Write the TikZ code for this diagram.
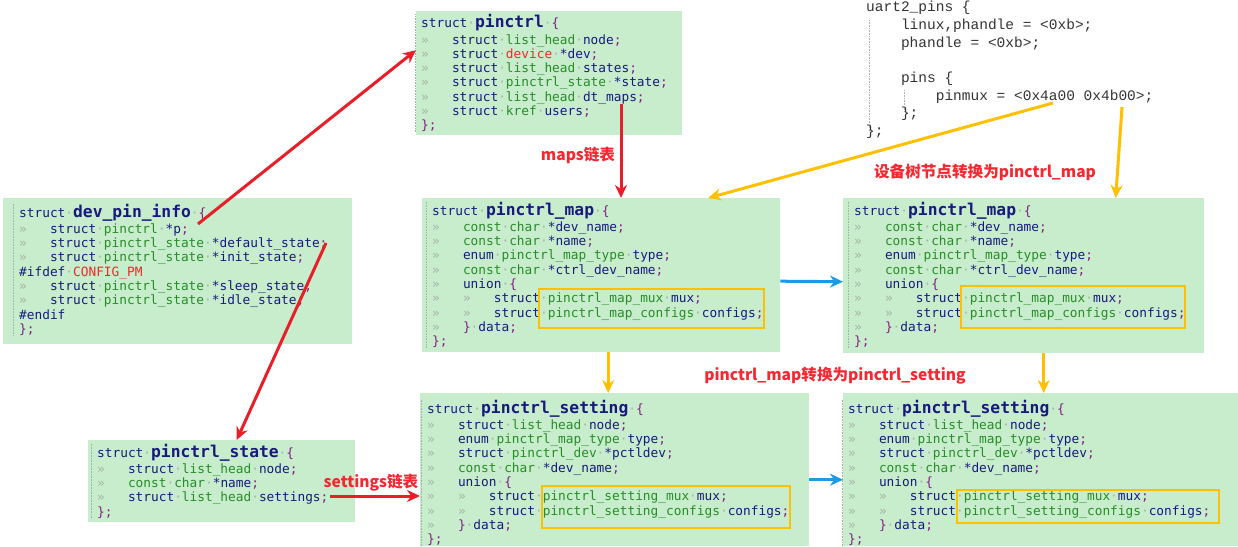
\documentclass[tikz,border=0pt]{standalone}
\usepackage{fontspec}
\setmonofont{DejaVu Sans Mono}
\newfontfamily\dtsfont{Liberation Mono}
\newfontfamily\cjk{Noto Sans CJK SC}
\usetikzlibrary{arrows.meta}

\definecolor{codebg}{RGB}{199,237,204}
\definecolor{codeblue}{RGB}{25,25,125}
\definecolor{codegreen}{RGB}{40,140,40}
\definecolor{codepurple}{RGB}{130,30,130}
\definecolor{codered}{RGB}{240,40,40}
\definecolor{tabgray}{RGB}{165,180,168}
\definecolor{arrred}{RGB}{232,30,40}
\definecolor{arryellow}{RGB}{255,192,0}
\definecolor{arrblue}{RGB}{25,155,230}
\definecolor{lblred}{RGB}{245,40,50}

% token colours of the code listings
\newcommand\ty[1]{\textcolor{codegreen}{#1}}
\newcommand\pu[1]{\textcolor{codepurple}{#1}}
\newcommand\rd[1]{\textcolor{codered}{#1}}
\newcommand\ws{\textcolor{tabgray}{·}}
\newcommand\tb{\textcolor{tabgray}{»}\ \ \ }
\newcommand\nm[1]{{\fontsize{16.3}{14.3}\selectfont\bfseries #1}}
\newcommand\ind{\hphantom{0000}}

\begin{document}
\begin{tikzpicture}[
    x=1pt, y=-1pt,
    box/.style    = {fill=codebg, inner sep=0, anchor=north west},
    code/.style   = {anchor=north west, inner sep=0, align=left, text=codeblue,
                     font=\ttfamily\fontsize{12.8}{14.3}\selectfont},
    dts/.style    = {anchor=north west, inner sep=0, align=left, text=black!80,
                     font=\dtsfont\fontsize{14.5}{17.7}\selectfont},
    hl/.style     = {draw=arryellow, line width=1.6pt, inner sep=0, anchor=north west},
    guide/.style  = {draw=tabgray, densely dotted, line width=0.6pt},
    arr/.style    = {-{Stealth[length=13pt, width=12pt]}, line width=3pt},
    redarr/.style = {arr, draw=arrred, fill=arrred},
    yelarr/.style = {arr, draw=arryellow, fill=arryellow},
    bluarr/.style = {arr, draw=arrblue, fill=arrblue},
    lbl/.style    = {inner sep=0, text=lblred,
                     font=\cjk\bfseries\fontsize{15.6}{18}\selectfont}
]
\useasboundingbox (0,0) rectangle (1238,546);

% background boxes
\node[box, minimum width=349pt, minimum height=146pt] (devinfo) at (3,198) {};
\node[box, minimum width=266pt, minimum height=124pt] (pinctrl) at (416,11) {};
\node[box, minimum width=358pt, minimum height=154pt] (mapL) at (422,198) {};
\node[box, minimum width=361pt, minimum height=155pt] (mapR) at (843,198) {};
\node[box, minimum width=267pt, minimum height=82pt] (state) at (88,440) {};
\node[box, minimum width=389pt, minimum height=153pt] (setL) at (420,393) {};
\node[box, minimum width=395pt, minimum height=153pt] (setR) at (843,393) {};

% struct listings
\node[code] (devinfotxt) at (19,203.6) {%
struct\ws\nm{dev\_pin\_info}\ws\pu{\{}\\[2pt]
\tb struct\ws\ty{pinctrl}\ws*p\pu{;}\\
\tb struct\ws\ty{pinctrl\_state}\ws*default\_state\pu{;}\\
\tb struct\ws\ty{pinctrl\_state}\ws*init\_state\pu{;}\\
\#ifdef\ws\rd{CONFIG\_PM}\\
\tb struct\ws\ty{pinctrl\_state}\ws*sleep\_state\pu{;}\\
\tb struct\ws\ty{pinctrl\_state}\ws*idle\_state\pu{;}\\
\#endif\\
\pu{\};}};

\node[code] (pinctrltxt) at (421,14.3) {%
struct\ws\nm{pinctrl}\ws\pu{\{}\\[2pt]
\tb struct\ws\ty{list\_head}\ws node\pu{;}\\
\tb struct\ws\rd{device}\ws*dev\pu{;}\\
\tb struct\ws\ty{list\_head}\ws states\pu{;}\\
\tb struct\ws\ty{pinctrl\_state}\ws*state\pu{;}\\
\tb struct\ws\ty{list\_head}\ws dt\_maps\pu{;}\\
\tb struct\ws\ty{kref}\ws users\pu{;}\\
\pu{\};}};

\foreach \n/\x in {mapLtxt/432, mapRtxt/854}
\node[code] (\n) at (\x,201.6) {%
struct\ws\nm{pinctrl\_map}\ws\pu{\{}\\[2pt]
\tb\ty{const\ws char}\ws*dev\_name\pu{;}\\
\tb\ty{const\ws char}\ws*name\pu{;}\\
\tb enum\ws\ty{pinctrl\_map\_type}\ws type\pu{;}\\
\tb\ty{const\ws char}\ws*ctrl\_dev\_name\pu{;}\\
\tb union\ws\pu{\{}\\
\tb\tb struct\ws\ty{pinctrl\_map\_mux}\ws mux\pu{;}\\
\tb\tb struct\ws\ty{pinctrl\_map\_configs}\ws configs\pu{;}\\
\tb\pu{\}}\ws data\pu{;}\\
\pu{\};}};

\node[code] (statetxt) at (97,443.6) {%
struct\ws\nm{pinctrl\_state}\ws\pu{\{}\\[2pt]
\tb struct\ws\ty{list\_head}\ws node\pu{;}\\
\tb\ty{const\ws char}\ws*name\pu{;}\\
\tb struct\ws\ty{list\_head}\ws settings\pu{;}\\
\pu{\};}};

\foreach \n/\x in {setLtxt/427, setRtxt/848}
\node[code] (\n) at (\x,399.6) {%
struct\ws\nm{pinctrl\_setting}\ws\pu{\{}\\[2pt]
\tb struct\ws\ty{list\_head}\ws node\pu{;}\\
\tb enum\ws\ty{pinctrl\_map\_type}\ws type\pu{;}\\
\tb struct\ws\ty{pinctrl\_dev}\ws*pctldev\pu{;}\\
\tb\ty{const\ws char}\ws*dev\_name\pu{;}\\
\tb union\ws\pu{\{}\\
\tb\tb struct\ws\ty{pinctrl\_setting\_mux}\ws mux\pu{;}\\
\tb\tb struct\ws\ty{pinctrl\_setting\_configs}\ws configs\pu{;}\\
\tb\pu{\}}\ws data\pu{;}\\
\pu{\};}};

% fold guides
\foreach \n in {devinfotxt, pinctrltxt, mapLtxt, mapRtxt, statetxt, setLtxt, setRtxt}
    \draw[guide] ([xshift=-6pt]\n.north west) -- ([xshift=-6pt]\n.south west);

% highlighted union members
\node[hl, minimum width=225pt, minimum height=39pt] (hlmapL) at (538,288) {};
\node[hl, minimum width=224pt, minimum height=42pt] (hlmapR) at (960,285) {};
\node[hl, minimum width=248pt, minimum height=42pt] (hlsetL) at (541,485) {};
\node[hl, minimum width=262pt, minimum height=33pt] (hlsetR) at (956,489) {};

% device tree node
\node[dts] (uart) at (866,1) {%
uart2\_pins \{\\
\ind linux,phandle = <0xb>;\\
\ind phandle = <0xb>;\\[17.7pt]
\ind pins \{\\
\ind\ind pinmux = <0x4a00 0x4b00>;\\
\ind \};\\
\};};
\draw[guide] (869,20) -- (869,132);
\draw[guide] (904,90) -- (904,112);

% arrow ends inside the listings
\coordinate (pptr)    at (198,224);
\coordinate (defst)   at (326,243);
\coordinate (dtmaps)  at (621,104);
\coordinate (pinA)    at (1053,103);
\coordinate (pinB)    at (1122,107);
\coordinate (setlist) at (330,496);

% connectors
\draw[redarr] (pptr) -- ([yshift=23pt]pinctrl.west);
\draw[redarr] (defst) -- ([xshift=15pt]state.north);
\draw[redarr] (dtmaps) -- (dtmaps |- mapL.north);
\draw[redarr] (setlist) -- (setlist -| setL.west);
\draw[yelarr] (pinA) -- ([xshift=107pt]mapL.north);
\draw[yelarr] (pinB) -- ([xshift=92pt]mapR.north);
\draw[yelarr] ([xshift=7pt]mapL.south) -- ([xshift=7pt]mapL.south |- setL.north);
\draw[yelarr] ([xshift=20pt]mapR.south) -- ([xshift=20pt]mapR.south |- setR.north);
\draw[bluarr] ([yshift=-6pt]mapL.east) -- ([yshift=-6pt]mapR.west);
\draw[bluarr] ([yshift=-10pt]setL.east) -- ([yshift=-10pt]setR.west);

% labels
\node[lbl] (mapslbl) at (578,155) {maps链表};
\node[lbl] (dtlbl)   at (985,172) {设备树节点转换为pinctrl\_map};
\node[lbl] (convlbl) at (835,376) {pinctrl\_map转换为pinctrl\_setting};
\node[lbl] (setlbl)  at (371,483) {settings链表};

\end{tikzpicture}
\end{document}
